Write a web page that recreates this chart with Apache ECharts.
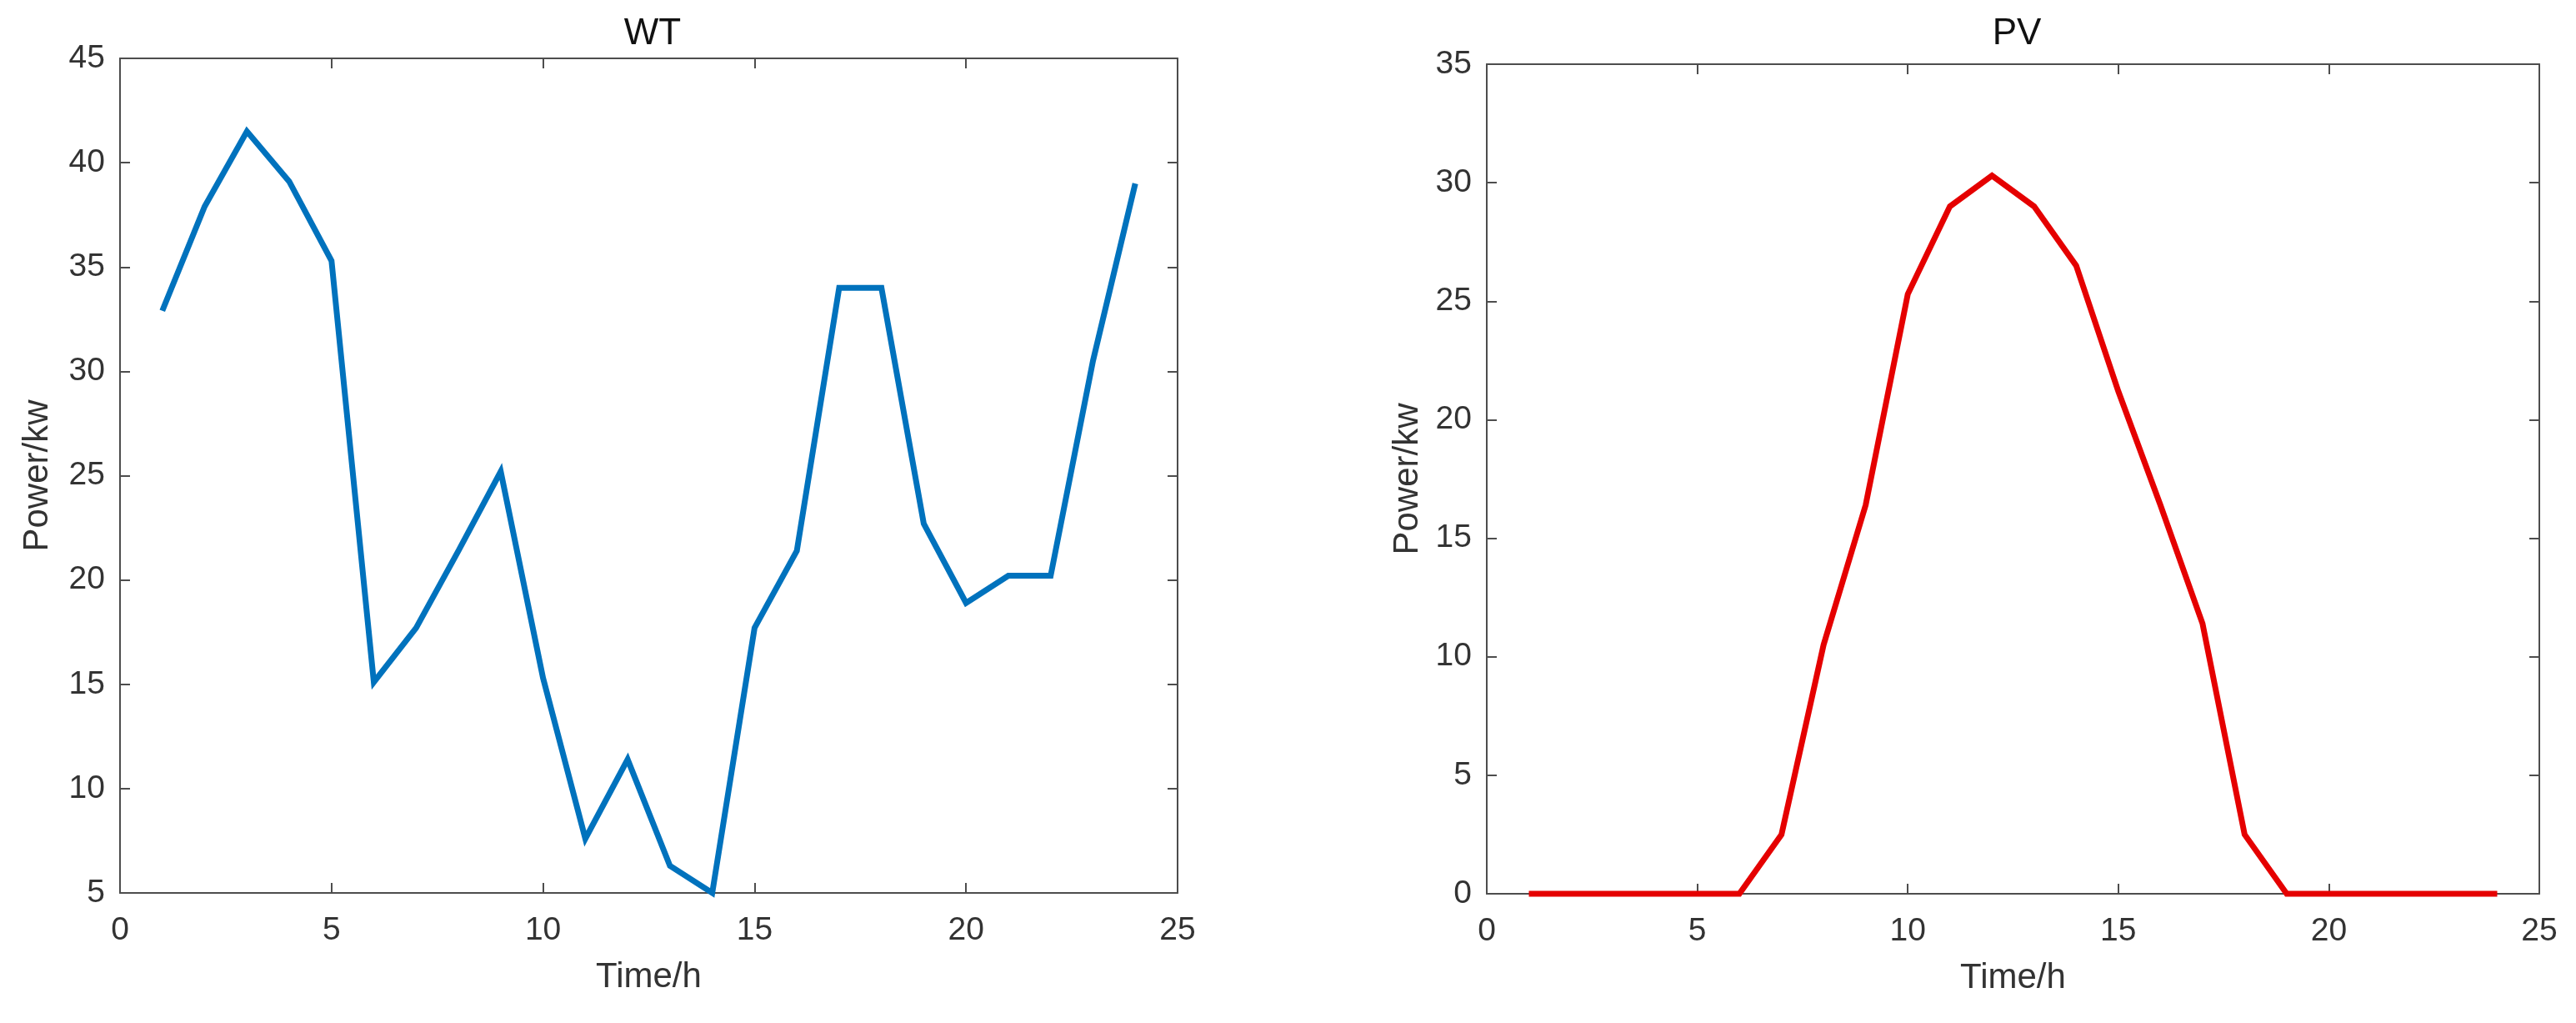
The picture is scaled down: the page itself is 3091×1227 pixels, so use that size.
<!DOCTYPE html>
<html lang="en">
<head>
    <meta charset="UTF-8">
    <title>WT / PV</title>
    <script src="https://cdn.jsdelivr.net/npm/echarts@6/dist/echarts.min.js"></script>
    <style>
        html, body { margin: 0; padding: 0; background: #fff; }
        #main { width: 3091px; height: 1227px; }
    </style>
</head>
<body>
<div id="main"></div>
<script type="text/javascript">
    // hours of the day
    var hours = [1, 2, 3, 4, 5, 6, 7, 8, 9, 10, 11, 12, 13, 14, 15, 16, 17, 18, 19, 20, 21, 22, 23, 24];
    // wind turbine output (kw)
    var wtPower = [32.9, 37.9, 41.5, 39.1, 35.3, 15.1, 17.7, 21.4, 25.2, 15.3, 7.6, 11.4,
                   6.3, 5.0, 17.7, 21.4, 34.0, 34.0, 22.7, 18.9, 20.2, 20.2, 30.5, 39.0];
    // photovoltaic output (kw)
    var pvPower = [0, 0, 0, 0, 0, 0, 2.5, 10.5, 16.4, 25.3, 29.0, 30.3,
                   29.0, 26.5, 21.2, 16.4, 11.4, 2.5, 0, 0, 0, 0, 0, 0];
    var titles = ['WT', 'PV'];
    var xName = 'Time/h';
    var yName = 'Power/kw';

    var font = '"Liberation Sans", Arial, sans-serif';
    var axisColor = '#4d4d4d';
    var textColor = '#333';

    function pairs(ys) {
        var out = [];
        for (var i = 0; i < hours.length; i++) {
            out.push([hours[i], ys[i]]);
        }
        return out;
    }

    // one main axis with labels + one mirror axis (ticks only) for the box look
    function xAxes(gi) {
        var base = {
            gridIndex: gi, type: 'value', min: 0, max: 25, interval: 5,
            axisLine: { show: true, onZero: false, lineStyle: { color: axisColor, width: 2 } },
            axisTick: { show: true, inside: true, length: 12, lineStyle: { color: axisColor, width: 2 } },
            splitLine: { show: false }
        };
        var bottom = Object.assign({}, base, {
            position: 'bottom',
            name: xName, nameLocation: 'middle', nameGap: 80,
            nameTextStyle: { fontFamily: font, fontSize: 42, color: textColor },
            axisLabel: { show: true, margin: 26, fontFamily: font, fontSize: 39, color: textColor }
        });
        var top = Object.assign({}, base, {
            position: 'top',
            axisLabel: { show: false }
        });
        return [bottom, top];
    }

    function yAxes(gi, min, max, gap) {
        var base = {
            gridIndex: gi, type: 'value', min: min, max: max, interval: 5,
            axisLine: { show: true, onZero: false, lineStyle: { color: axisColor, width: 2 } },
            axisTick: { show: true, inside: true, length: 12, lineStyle: { color: axisColor, width: 2 } },
            splitLine: { show: false }
        };
        var left = Object.assign({}, base, {
            position: 'left',
            name: yName, nameLocation: 'middle', nameGap: gap,
            nameTextStyle: { fontFamily: font, fontSize: 42, color: textColor },
            axisLabel: { show: true, margin: 18, fontFamily: font, fontSize: 39, color: textColor }
        });
        var right = Object.assign({}, base, {
            position: 'right',
            axisLabel: { show: false }
        });
        return [left, right];
    }

    var myChart = echarts.init(document.getElementById('main'));
    var option = {
        backgroundColor: '#fff',
        animation: false,
        title: [
            { text: titles[0], left: 778, top: 14, textAlign: 'center',
              textStyle: { fontFamily: font, fontSize: 44, fontWeight: 'normal', color: '#111' } },
            { text: titles[1], left: 2415, top: 14, textAlign: 'center',
              textStyle: { fontFamily: font, fontSize: 44, fontWeight: 'normal', color: '#111' } }
        ],
        grid: [
            { left: 144, right: 1678, top: 70, bottom: 156 },
            { left: 1784, right: 44, top: 77, bottom: 155 }
        ],
        xAxis: xAxes(0).concat(xAxes(1)),
        yAxis: yAxes(0, 5, 45, 78).concat(yAxes(1, 0, 35, 74)),
        series: [
            {
                name: titles[0], type: 'line', xAxisIndex: 0, yAxisIndex: 0,
                data: pairs(wtPower), showSymbol: false, clip: false,
                lineStyle: { color: '#0072bd', width: 7, join: 'miter' }
            },
            {
                name: titles[1], type: 'line', xAxisIndex: 2, yAxisIndex: 2,
                data: pairs(pvPower), showSymbol: false, clip: false,
                lineStyle: { color: '#e50000', width: 7, join: 'miter' }
            }
        ]
    };
    myChart.setOption(option);
</script>
</body>
</html>
